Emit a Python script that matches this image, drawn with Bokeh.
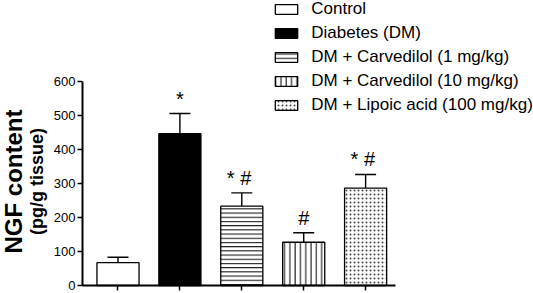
import math
from bokeh.plotting import figure
from bokeh.models import (Range1d, FixedTicker, Legend, LegendItem, Label,
                          Whisker, TeeHead, ColumnDataSource)
from bokeh.core.properties import value
from bokeh.embed import file_html
from bokeh.resources import INLINE

# ---- data ----
categories = ["Control", "Diabetes (DM)", "DM + Carvedilol (1 mg/kg)",
              "DM + Carvedilol (10 mg/kg)", "DM + Lipoic acid (100 mg/kg)"]
ngf_mean = [67, 446, 233, 127, 286]
ngf_sem = [16, 59, 39, 28, 40]
significance = ["", "*", "*  #", "#", "*  #"]
y_ticks = [0, 100, 200, 300, 400, 500, 600]
y_label_main = "NGF content"
y_label_unit = "(pg/g tissue)"

# ---- styles ----
fill_colors = ["white", "black", "white", "white", "white"]
hatch_patterns = [" ", " ", "horizontal_line", "vertical_line", "dot"]
hatch_scales = [12, 12, 4.2, 5.3, 4.0]
hatch_weights = [1, 1, 1.0, 1.0, 0.9]
hatch_colors = ["black", "black", "black", "black", "#444444"]

FONT = "Liberation Sans"

xpos = list(range(len(categories)))
err_top = [m + s for m, s in zip(ngf_mean, ngf_sem)]

AX_X0, AX_X1 = -0.574, 4.483   # extent of the drawn x axis
p = figure(width=533, height=293,
           x_range=Range1d(-1.898, 6.712), y_range=Range1d(-23.5, 837),
           output_backend="svg", toolbar_location=None,
           min_border_left=0, min_border_right=0,
           min_border_top=0, min_border_bottom=0)
p.grid.visible = False
p.outline_line_color = None
p.background_fill_color = "white"
p.border_fill_color = "white"

items = []
for i, name in enumerate(categories):
    src = ColumnDataSource(dict(x=[xpos[i]], top=[ngf_mean[i]]))
    r = p.vbar(x="x", top="top", bottom=0, width=0.68, source=src,
               fill_color=fill_colors[i], line_color="black", line_width=1.3,
               hatch_pattern=hatch_patterns[i], hatch_scale=hatch_scales[i],
               hatch_weight=hatch_weights[i], hatch_color=hatch_colors[i])
    items.append(LegendItem(label=name, renderers=[r]))

wsrc = ColumnDataSource(dict(base=xpos, lower=ngf_mean, upper=err_top))
wh = Whisker(base="base", lower="lower", upper="upper", source=wsrc,
             line_color="black", line_width=1.4,
             upper_head=TeeHead(size=21, line_color="black", line_width=1.4),
             lower_head=None)
p.add_layout(wh)

tsrc = ColumnDataSource(dict(x=xpos, y=err_top, t=significance))
p.text(x="x", y="y", text="t", source=tsrc, y_offset=-4,
       text_align="center", text_baseline="bottom",
       text_font=value(FONT), text_font_size="20px", text_color="black")

# axes (placed inside the frame at fixed locations, limited by bounds)
p.yaxis.fixed_location = AX_X0
p.yaxis.bounds = (0, 600)
p.yaxis.ticker = FixedTicker(ticks=y_ticks)
p.yaxis.major_label_text_font = FONT
p.yaxis.major_label_text_font_size = "13px"
p.yaxis.major_label_text_color = "black"
p.yaxis.major_label_standoff = 2
p.yaxis.major_tick_out = 5
p.yaxis.major_tick_in = 0
p.yaxis.minor_tick_out = 0
p.yaxis.minor_tick_in = 0
p.yaxis.axis_line_width = 2
p.yaxis.major_tick_line_width = 1.5

p.xaxis.fixed_location = 0
p.xaxis.bounds = (AX_X0, AX_X1)
p.xaxis.ticker = FixedTicker(ticks=xpos)
p.xaxis.major_label_overrides = {i: "" for i in xpos}
p.xaxis.major_label_standoff = 0
p.xaxis.major_tick_out = 5
p.xaxis.major_tick_in = 0
p.xaxis.minor_tick_out = 0
p.xaxis.minor_tick_in = 0
p.xaxis.axis_line_width = 2
p.xaxis.major_tick_line_width = 1.5

p.add_layout(Label(x=12.5, y=112, x_units="screen", y_units="screen",
                   text=y_label_main, angle=math.pi / 2,
                   text_align="center", text_baseline="middle",
                   text_font=FONT, text_font_style="bold",
                   text_font_size="24px", text_color="black"))
p.add_layout(Label(x=36, y=112, x_units="screen", y_units="screen",
                   text=y_label_unit, angle=math.pi / 2,
                   text_align="center", text_baseline="middle",
                   text_font=FONT, text_font_style="bold",
                   text_font_size="18px", text_color="black"))

legend = Legend(items=items, location=(272.25, 177.8),
                glyph_width=28, glyph_height=12, label_height=20,
                spacing=4, padding=0, margin=0, label_standoff=11,
                border_line_color=None, background_fill_alpha=0,
                label_text_font=FONT, label_text_font_size="17px",
                label_text_color="black")
p.add_layout(legend)

open("out.html", "w").write(file_html(p, INLINE))
